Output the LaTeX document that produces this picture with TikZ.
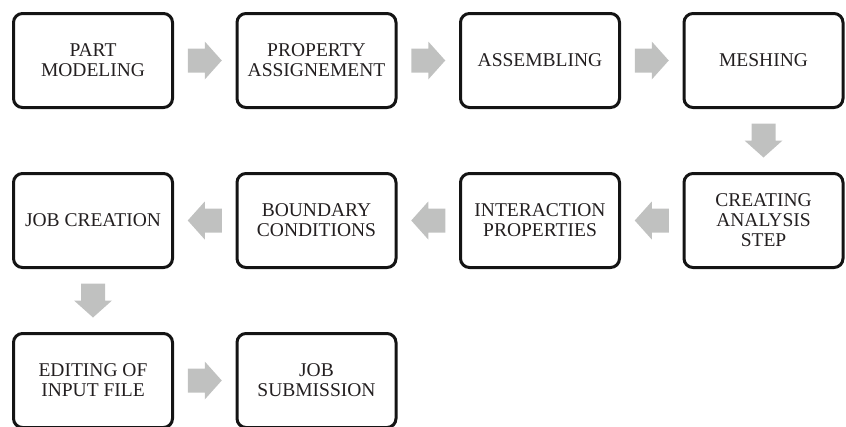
\documentclass[tikz,border=0pt]{standalone}
\usepackage{fontspec}
\setmainfont{Liberation Serif}
\usetikzlibrary{calc}
\definecolor{arrowgray}{HTML}{C0C1C0}
\definecolor{inkcol}{HTML}{231F20}
\begin{document}
\begin{tikzpicture}[x=1pt,y=1pt,
  stepbox/.style={draw=black!92, line width=3pt, rounded corners=9pt,
    minimum width=159pt, minimum height=94pt, align=center, text=inkcol,
    font=\fontsize{19.5}{20}\selectfont, inner sep=0pt},
  blockarr/.pic={\fill[arrowgray] (-17,-12) -- (0,-12) -- (0,-19) -- (17,0)
    -- (0,19) -- (0,12) -- (-17,12) -- cycle;}]
\useasboundingbox (0,0) rectangle (846,-426);
% row 1
\node[stepbox] (p1) at (93,-60.5) {PART\\MODELING};
\node[stepbox] (p2) at (316.5,-60.5) {PROPERTY\\ASSIGNEMENT};
\node[stepbox] (p3) at (540,-60.5) {ASSEMBLING};
\node[stepbox] (p4) at (763.5,-60.5) {MESHING};
% row 2
\node[stepbox] (q4) at (763.5,-220.5) {CREATING\\ANALYSIS\\STEP};
\node[stepbox] (q3) at (540,-220.5) {INTERACTION\\PROPERTIES};
\node[stepbox] (q2) at (316.5,-220.5) {BOUNDARY\\CONDITIONS};
\node[stepbox] (q1) at (93,-220.5) {JOB CREATION};
% row 3
\node[stepbox] (r1) at (93,-380.5) {EDITING OF\\INPUT FILE};
\node[stepbox] (r2) at (316.5,-380.5) {JOB\\SUBMISSION};
% block arrows
\pic (a1) at ($(p1.east)!0.5!(p2.west)$) {blockarr};
\pic (a2) at ($(p2.east)!0.5!(p3.west)$) {blockarr};
\pic (a3) at ($(p3.east)!0.5!(p4.west)$) {blockarr};
\pic[rotate=-90] (a4) at ($(p4.south)!0.5!(q4.north)$) {blockarr};
\pic[rotate=180] (a5) at ($(q4.west)!0.5!(q3.east)$) {blockarr};
\pic[rotate=180] (a6) at ($(q3.west)!0.5!(q2.east)$) {blockarr};
\pic[rotate=180] (a7) at ($(q2.west)!0.5!(q1.east)$) {blockarr};
\pic[rotate=-90] (a8) at ($(q1.south)!0.5!(r1.north)$) {blockarr};
\pic (a9) at ($(r1.east)!0.5!(r2.west)$) {blockarr};
\end{tikzpicture}
\end{document}
